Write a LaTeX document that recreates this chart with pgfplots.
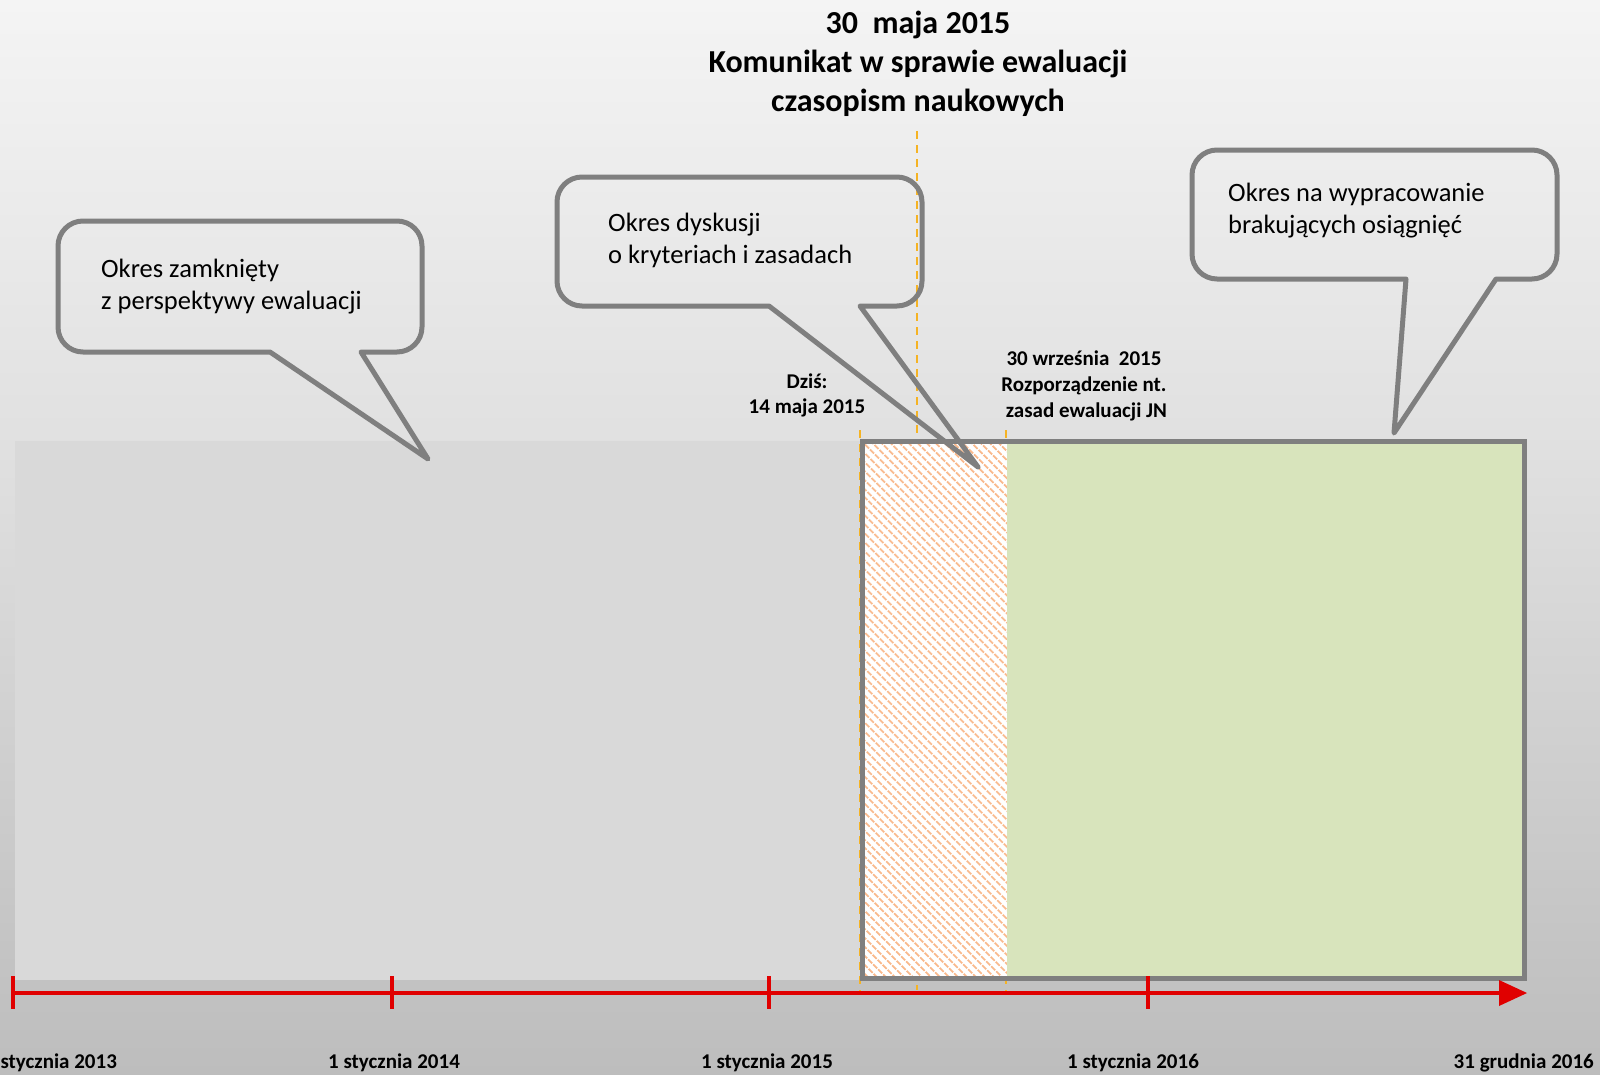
\documentclass[border=0pt]{standalone}
\usepackage{pgfplots}
\pgfplotsset{compat=1.18}
\usepackage{fontspec}
\setmainfont{Carlito}
\usetikzlibrary{patterns.meta}
\definecolor{bgtop}{HTML}{F4F4F4}
\definecolor{bgmid}{HTML}{E0E0E0}
\definecolor{bgbot}{HTML}{BDBDBD}
\definecolor{greyreg}{HTML}{D9D9D9}
\definecolor{greenreg}{HTML}{D8E4BC}
\definecolor{hatchcol}{HTML}{F9B98C}
\definecolor{bord}{HTML}{7F7F7F}
\definecolor{axred}{HTML}{E00000}
\definecolor{dashcol}{HTML}{F5B324}
\pgfdeclareverticalshading{bgshade}{100bp}{color(0bp)=(bgbot); color(25bp)=(bgbot); color(54bp)=(bgmid); color(75bp)=(bgtop); color(100bp)=(bgtop)}
\begin{document}
\begin{tikzpicture}
\begin{axis}[
  scale only axis, width=1600pt, height=1074pt,
  xmin=0, xmax=1600, ymin=0, ymax=1074, y dir=reverse,
  axis lines=none, clip=true,
]
% background
\fill[shading=bgshade] (axis cs:0,0) rectangle (axis cs:1600,1074);
% grey closed period
\addplot[draw=none, fill=greyreg] coordinates {(15,441) (860,441) (860,980) (15,980)} -- cycle;
% dashed marker lines
\addplot[dashcol, line width=2pt, dash pattern=on 8pt off 6pt] coordinates {(917,131) (917,990)};
\addplot[dashcol, line width=2pt, dash pattern=on 8pt off 6pt] coordinates {(860,430) (860,994)};
\addplot[dashcol, line width=2pt, dash pattern=on 8pt off 6pt] coordinates {(1006,430) (1006,994)};
% hatched discussion period
\addplot[draw=none, fill=white] coordinates {(860,441) (1007,441) (1007,980) (860,980)} -- cycle;
\addplot[draw=none, pattern={Lines[angle=-45, distance=6.5pt, line width=2.2pt]}, pattern color=hatchcol] coordinates {(860,441) (1007,441) (1007,980) (860,980)} -- cycle;
% green period
\addplot[draw=none, fill=greenreg] coordinates {(1007,441) (1525,441) (1525,980) (1007,980)} -- cycle;
% border
\addplot[bord, line width=5pt, line join=miter] coordinates {(862,441) (1524,441) (1524,978) (862,978)} -- cycle;
% red time axis
\addplot[axred, line width=4pt] coordinates {(13,993) (1502,993)};
\addplot[draw=none, fill=axred] coordinates {(1499,980) (1527,993) (1499,1006)} -- cycle;
\addplot[axred, line width=4pt] coordinates {(13,976) (13,1009)};
\addplot[axred, line width=4pt] coordinates {(392,976) (392,1009)};
\addplot[axred, line width=4pt] coordinates {(769,976) (769,1009)};
\addplot[axred, line width=4pt] coordinates {(1148,976) (1148,1009)};
% callouts
\draw[bord, line width=5pt, line join=round] (axis cs:270,352) [rounded corners=25pt] -- (axis cs:58,352) -- (axis cs:58,221) -- (axis cs:422,221) -- (axis cs:422,352) [sharp corners] -- (axis cs:361,352) -- (axis cs:428,459) -- cycle;
\draw[bord, line width=5pt, line join=round] (axis cs:769,306) [rounded corners=25pt] -- (axis cs:557,306) -- (axis cs:557,177) -- (axis cs:922,177) -- (axis cs:922,306) [sharp corners] -- (axis cs:860,306) -- (axis cs:978,467) -- cycle;
\draw[bord, line width=5pt, line join=round] (axis cs:1406,279) [rounded corners=25pt] -- (axis cs:1192,279) -- (axis cs:1192,150) -- (axis cs:1557,150) -- (axis cs:1557,279) [sharp corners] -- (axis cs:1496,279) -- (axis cs:1394,433) -- cycle;
% callout texts
\node[anchor=west, align=left, inner sep=0pt, font=\fontsize{26.5}{32}\selectfont] at (axis cs:101,287) {Okres zamknięty\\z perspektywy ewaluacji};
\node[anchor=west, align=left, inner sep=0pt, font=\fontsize{26.5}{32}\selectfont] at (axis cs:608,240.5) {Okres dyskusji\\o kryteriach i zasadach};
\node[anchor=west, align=left, inner sep=0pt, font=\fontsize{26.5}{32}\selectfont] at (axis cs:1228,211) {Okres na wypracowanie\\brakujących osiągnięć};
% title
\node[align=center, inner sep=0pt, font=\fontsize{32}{39}\selectfont\bfseries] at (axis cs:918,64) {30\ \ maja 2015\\Komunikat w sprawie ewaluacji\\czasopism naukowych};
% event labels
\node[align=center, inner sep=0pt, font=\fontsize{21}{25.5}\selectfont\bfseries] at (axis cs:807,395.5) {Dziś:\\14 maja 2015};
\node[align=center, inner sep=0pt, font=\fontsize{21}{26}\selectfont\bfseries] at (axis cs:1084,386) {30 września\ \ 2015\\Rozporządzenie nt.\\\ zasad ewaluacji JN};
% date labels
\node[inner sep=0pt, font=\fontsize{21}{25}\selectfont\bfseries] at (axis cs:51,1063) {1 stycznia 2013};
\node[inner sep=0pt, font=\fontsize{21}{25}\selectfont\bfseries] at (axis cs:394,1063) {1 stycznia 2014};
\node[inner sep=0pt, font=\fontsize{21}{25}\selectfont\bfseries] at (axis cs:767,1063) {1 stycznia 2015};
\node[inner sep=0pt, font=\fontsize{21}{25}\selectfont\bfseries] at (axis cs:1133,1063) {1 stycznia 2016};
\node[anchor=east, inner sep=0pt, font=\fontsize{21}{25}\selectfont\bfseries] at (axis cs:1594,1063) {31 grudnia 2016};
\end{axis}
\pgfresetboundingbox
\useasboundingbox (current axis.south west) rectangle (current axis.north east);
\end{tikzpicture}
\end{document}
